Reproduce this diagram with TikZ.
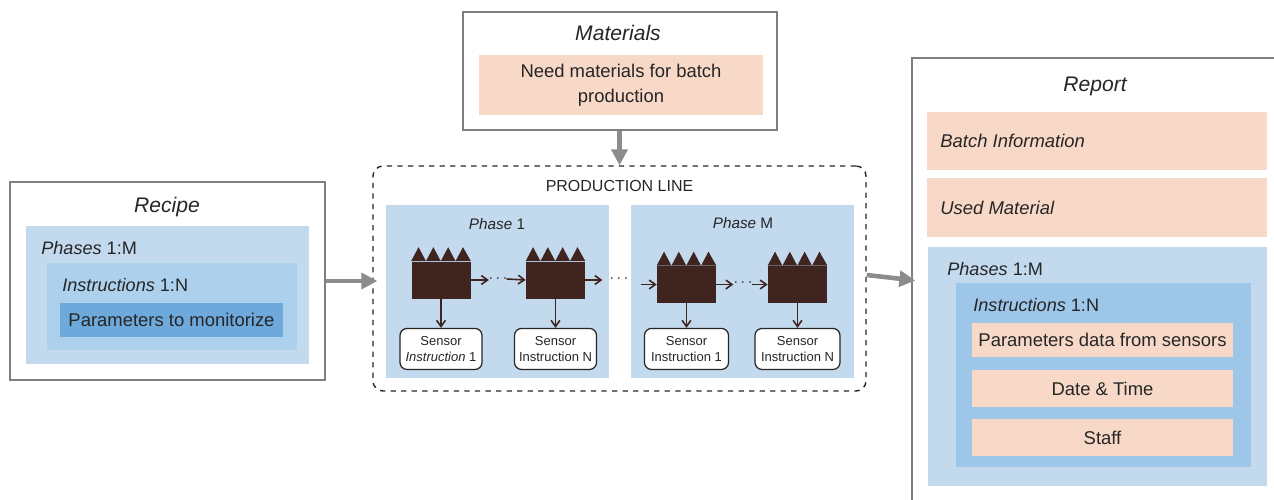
\documentclass[tikz,border=0pt]{standalone}
\usepackage{fontspec}
\setmainfont{Liberation Sans}
\usepackage{xcolor}
\usepackage{tikz}
\usetikzlibrary{positioning}
\usetikzlibrary{arrows.meta}
\newlength{\px}
\setlength{\px}{0.02cm}
\definecolor{linegray}{HTML}{7F7F7F}
\definecolor{arrowgray}{HTML}{8C8C8C}
\definecolor{peach}{HTML}{F8D9C8}
\definecolor{paleblue}{HTML}{C2D9EE}
\definecolor{midblue}{HTML}{9DC6E8}
\definecolor{innerblue}{HTML}{ADD1EC}
\definecolor{deepblue}{HTML}{6EA9DC}
\definecolor{factorybrown}{HTML}{3F2420}
\definecolor{inktext}{HTML}{262626}
\begin{document}
\begin{tikzpicture}[x=0.02cm, y=-0.02cm, text=inktext,
framenode/.style={rectangle, draw=linegray, fill=white, line width=0.9pt, inner sep=0pt},
blocknode/.style={rectangle, fill=#1, inner sep=0pt, align=center, font=\fontsize{10.5}{14}\selectfont},
titlenode/.style={font=\fontsize{12}{14}\selectfont\itshape},
labelnode/.style={anchor=west, inner sep=0pt, font=\fontsize{10.3}{12}\selectfont},
phasenode/.style={inner sep=0pt, font=\fontsize{8.7}{10}\selectfont},
factorynode/.style={rectangle, fill=factorybrown, inner sep=0pt, minimum width=59\px, minimum height=37\px},
sensornode/.style={rectangle, rounded corners=7\px, draw=inktext, fill=white, line width=0.7pt, inner sep=0pt, minimum height=41\px, align=center, font=\fontsize{7.4}{9.6}\selectfont},
dotsnode/.style={inner sep=0pt, font=\fontsize{9}{10}\selectfont},
bigarrow/.style={-{Triangle[length=9pt,width=9pt]}, draw=arrowgray, line width=2.6pt},
smallarrow/.style={-{Straight Barb[length=3.5pt,width=5pt]}, draw=factorybrown, line width=0.9pt},
]
\useasboundingbox (0,0) rectangle (1274,500);

%Recipe
\node[framenode, minimum width=315\px, minimum height=198\px] (recipe) at (167.5,281) {};
\node[blocknode=paleblue, minimum width=283\px, minimum height=138\px] (recipephases) at (167.5,295) {};
\node[blocknode=innerblue, minimum width=250\px, minimum height=87\px] (recipeinstr) at (172,306.5) {};
\node[blocknode=deepblue, minimum width=223\px, minimum height=34\px] (recipeparams) at (171.5,320) {Parameters to monitorize};
\node[titlenode] (recipetitle) at (167,207) {Recipe};
\node[labelnode] (recipephaselabel) at (41,248) {\textit{Phases} 1:M};
\node[labelnode] (recipeinstrlabel) at (62,285) {\textit{Instructions} 1:N};

%Materials
\node[framenode, minimum width=314\px, minimum height=118\px] (materials) at (620,71) {};
\node[blocknode=peach, minimum width=284\px, minimum height=60\px] (materialsneed) at (621,85) {Need materials for batch\\production};
\node[titlenode] (materialstitle) at (618,33) {Materials};

%Production line
\node[rectangle, draw=inktext, dashed, rounded corners=10\px, line width=0.8pt, minimum width=493\px, minimum height=225\px, inner sep=0pt] (line) at (619.5,278.5) {};
\node[inner sep=0pt, font=\fontsize{9.1}{11}\selectfont] (linetitle) at (619.5,186) {PRODUCTION LINE};
\node[blocknode=paleblue, minimum width=223\px, minimum height=173\px] (phasea) at (497.5,291.5) {};
\node[blocknode=paleblue, minimum width=223\px, minimum height=173\px] (phaseb) at (742.5,291.5) {};
\node[phasenode] (phasealabel) at (497,224) {\textit{Phase} 1};
\node[phasenode] (phaseblabel) at (743,223) {\textit{Phase} M};

%Factories
\node[factorynode] (fa) at (441,280) {};
\node[factorynode] (fb) at (555.5,280) {};
\node[factorynode] (fc) at (686.5,284.5) {};
\node[factorynode] (fd) at (797.5,284.5) {};
\foreach \f in {fa,fb,fc,fd}
  \fill[factorybrown] (\f.north west) -- ++(7.4,-14) -- ++(7.4,14) -- ++(7.4,-14) -- ++(7.4,14)
    -- ++(7.4,-14) -- ++(7.4,14) -- ++(7.4,-14) -- (\f.north east) -- cycle;
\node[sensornode, minimum width=82\px, below=29\px of fa] (sa) {Sensor\\\textit{Instruction} 1};
\node[sensornode, minimum width=82\px, below=29\px of fb] (sb) {Sensor\\Instruction N};
\node[sensornode, minimum width=84\px, below=24.5\px of fc] (sc) {Sensor\\Instruction 1};
\node[sensornode, minimum width=85\px, below=24.5\px of fd] (sd) {Sensor\\Instruction N};
\node[dotsnode] (dotsa) at (498,279) {$\cdots$};
\node[dotsnode] (dotsb) at (619,279) {$\cdots$};
\node[dotsnode] (dotsc) at (743,283) {$\cdots$};

%Report
\node[framenode, minimum width=372\px, minimum height=452\px] (report) at (1098,284) {};
\node[titlenode] (reporttitle) at (1095,86) {Report};
\node[blocknode=peach, minimum width=340\px, minimum height=58\px] (reportbatch) at (1097,141) {};
\node[blocknode=peach, minimum width=340\px, minimum height=59\px] (reportused) at (1097,207.5) {};
\node[labelnode, font=\fontsize{10.5}{12}\selectfont\itshape] (reportbatchlabel) at (940,141) {Batch Information};
\node[labelnode, font=\fontsize{10.5}{12}\selectfont\itshape] (reportusedlabel) at (940,208) {Used Material};
\node[blocknode=paleblue, minimum width=339\px, minimum height=239\px] (reportphases) at (1097.5,366.5) {};
\node[blocknode=midblue, minimum width=295\px, minimum height=184\px] (reportinstr) at (1103.5,375) {};
\node[labelnode] (reportphaselabel) at (947,269) {\textit{Phases} 1:M};
\node[labelnode] (reportinstrlabel) at (973,305) {\textit{Instructions} 1:N};
\node[blocknode=peach, minimum width=261\px, minimum height=34\px] (reportparams) at (1102.5,340) {Parameters data from sensors};
\node[blocknode=peach, minimum width=261\px, minimum height=37\px] (reportdate) at (1102.5,388.5) {Date \& Time};
\node[blocknode=peach, minimum width=261\px, minimum height=37\px] (reportstaff) at (1102.5,437.5) {Staff};

%Lines
\draw[bigarrow] (materials.south -| line.north) -- (line.north);
\draw[bigarrow] (recipe.east) -- ([xshift=5\px]line.west |- recipe.east);
\draw[bigarrow] ([yshift=3.5\px]line.east) -- ([yshift=3.5\px,xshift=4\px]report.west);
\draw[smallarrow] (fa.east) -- ++(18,0) coordinate (aout);
\draw[smallarrow] ([xshift=-19\px,yshift=1\px]fb.west) coordinate (bin) -- (fb.west);
\draw[smallarrow] (fb.east) -- ++(17,0) coordinate (bout);
\draw[smallarrow] ([xshift=-16\px]fc.west) coordinate (cin) -- (fc.west);
\draw[smallarrow] (fc.east) -- ++(17,0) coordinate (cout);
\draw[smallarrow] ([xshift=-16\px]fd.west) coordinate (din) -- (fd.west);
\foreach \f/\s in {fa/sa,fb/sb,fc/sc,fd/sd}
  \draw[smallarrow] (\f.south) -- (\s.north);
\end{tikzpicture}
\end{document}
